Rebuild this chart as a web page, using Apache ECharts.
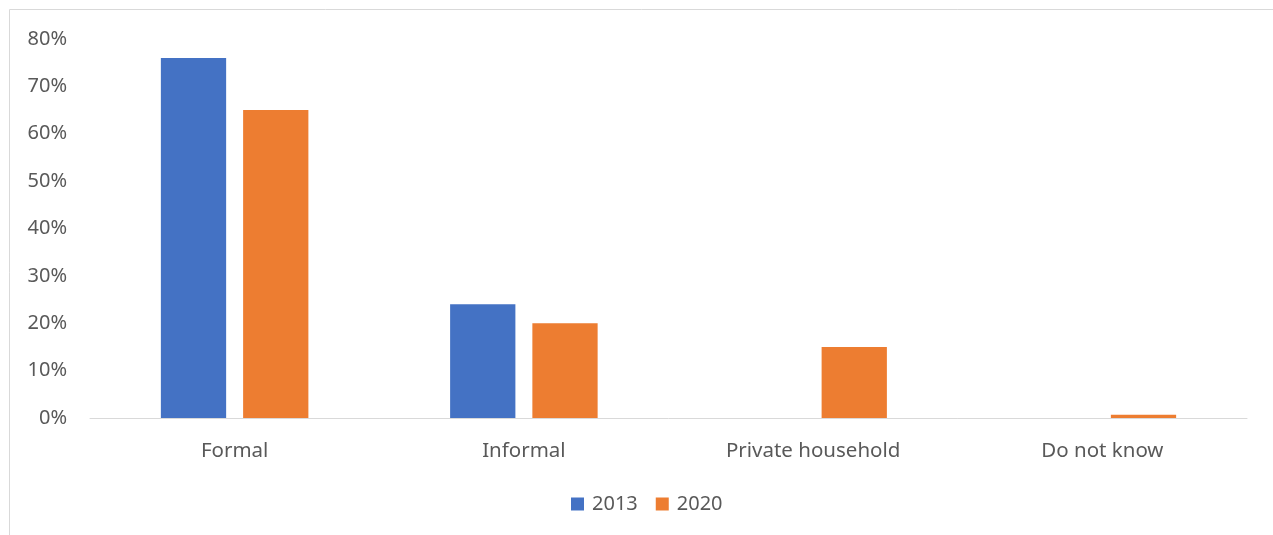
<!DOCTYPE html>
<html>
<head>
<meta charset="utf-8">
<style>
  html, body { margin: 0; padding: 0; background: #fff; }
  #chart { width: 1273px; height: 535px; }
</style>
<script src="https://cdn.jsdelivr.net/npm/echarts@6/dist/echarts.min.js"></script>
</head>
<body>
<div id="chart"></div>
<script>
// Employment sector shares, by survey year
const categories = ['Formal', 'Informal', 'Private household', 'Do not know'];
const seriesNames = ['2013', '2020'];
const values2013 = [76, 24, null, null];
const values2020 = [65, 20, 15, 0.7];
const yTicks = [0, 10, 20, 30, 40, 50, 60, 70, 80];

const font = '"Noto Sans", "Liberation Sans", Arial, sans-serif';
const textColor = '#595959';

const chart = echarts.init(document.getElementById('chart'), null, { renderer: 'canvas' });

chart.setOption({
  animation: false,
  textStyle: { fontFamily: font },
  graphic: [{
    type: 'rect',
    shape: { x: 9.5, y: 9.5, width: 1400, height: 700 },
    style: { fill: 'none', stroke: '#d9d9d9', lineWidth: 1 },
    silent: true
  }],
  grid: { left: 90, right: 26, top: 39, bottom: 117, containLabel: false },
  legend: {
    data: seriesNames,
    bottom: 16,
    left: 566,
    itemWidth: 13,
    itemHeight: 13,
    itemGap: 18,
    icon: 'rect',
    textStyle: { fontSize: 20, color: textColor, fontFamily: font, padding: [0, 0, 0, 3] }
  },
  xAxis: {
    type: 'category',
    data: categories,
    axisLine: { lineStyle: { color: '#d9d9d9', width: 1 } },
    axisTick: { show: false },
    axisLabel: { fontSize: 20.5, color: textColor, margin: 23, fontFamily: font }
  },
  yAxis: {
    type: 'value',
    min: yTicks[0],
    max: yTicks[yTicks.length - 1],
    interval: 10,
    splitLine: { show: false },
    axisLine: { show: false },
    axisTick: { show: false },
    axisLabel: {
      fontSize: 20, color: textColor, margin: 23, fontFamily: font,
      padding: [2, 0, 0, 0],
      formatter: v => v + '%'
    }
  },
  series: [
    {
      name: seriesNames[0],
      type: 'bar',
      data: values2013,
      itemStyle: { color: '#4472C4' },
      barGap: '26%',
      barCategoryGap: '49%'
    },
    {
      name: seriesNames[1],
      type: 'bar',
      data: values2020,
      itemStyle: { color: '#ED7D31' },
      barGap: '26%',
      barCategoryGap: '49%'
    }
  ]
});
</script>
</body>
</html>
